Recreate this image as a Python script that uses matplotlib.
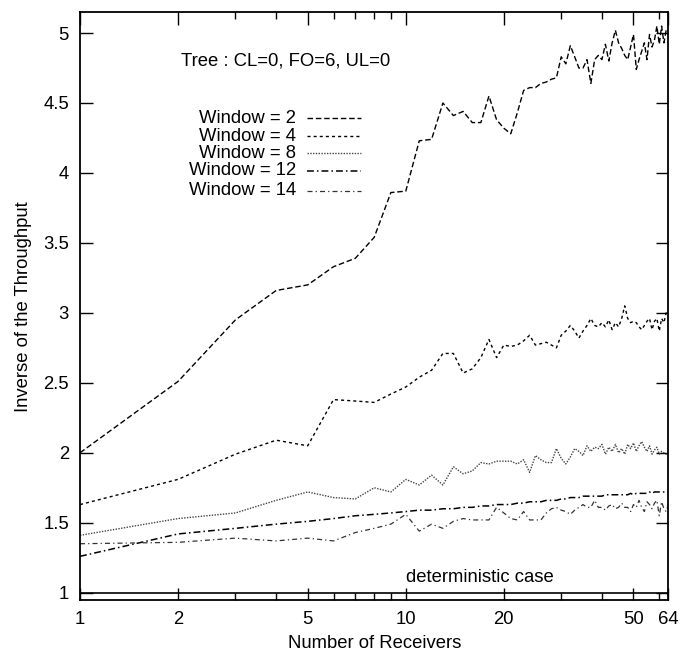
"""Inverse of the throughput vs number of receivers, tree topology, several window sizes."""

import numpy as np
import matplotlib
matplotlib.use("Agg")
import matplotlib.pyplot as plt
from matplotlib.ticker import FixedLocator, NullFormatter

plt.rcParams["font.family"] = ["Liberation Sans", "DejaVu Sans"]

receivers = np.arange(1, 65)

window_2 = [
    2.00, 2.51, 2.95, 3.16, 3.20, 3.33, 3.39, 3.54, 3.86, 3.87,
    4.23, 4.24, 4.50, 4.41, 4.44, 4.36, 4.36, 4.55, 4.38, 4.32,
    4.28, 4.43, 4.59, 4.61, 4.61, 4.64, 4.65, 4.67, 4.68, 4.83,
    4.78, 4.91, 4.83, 4.75, 4.75, 4.81, 4.64, 4.81, 4.84, 4.81,
    4.92, 4.80, 4.93, 5.02, 4.93, 4.89, 4.84, 4.81, 4.90, 4.99,
    4.74, 4.81, 4.87, 4.93, 4.81, 4.99, 4.90, 4.95, 5.05, 4.92,
    5.05, 4.93, 5.02, 5.00,
]
window_4 = [
    1.63, 1.81, 1.99, 2.09, 2.05, 2.38, 2.37, 2.36, 2.42, 2.47,
    2.54, 2.59, 2.71, 2.71, 2.57, 2.60, 2.68, 2.81, 2.68, 2.77,
    2.76, 2.77, 2.80, 2.84, 2.77, 2.78, 2.79, 2.77, 2.75, 2.84,
    2.87, 2.91, 2.87, 2.82, 2.87, 2.91, 2.96, 2.91, 2.90, 2.93,
    2.90, 2.95, 2.88, 2.93, 2.90, 2.96, 3.05, 2.96, 2.93, 2.94,
    2.93, 2.90, 2.88, 2.91, 2.94, 2.96, 2.88, 2.94, 2.96, 2.87,
    2.96, 2.93, 3.00, 2.97,
]
window_8 = [
    1.41, 1.53, 1.57, 1.66, 1.72, 1.68, 1.67, 1.75, 1.72, 1.81,
    1.77, 1.84, 1.77, 1.90, 1.85, 1.87, 1.93, 1.92, 1.94, 1.94,
    1.94, 1.92, 1.95, 1.86, 1.98, 1.95, 1.93, 1.93, 2.03, 1.96,
    1.92, 1.97, 2.03, 2.01, 1.98, 2.05, 2.01, 2.04, 2.03, 2.06,
    1.99, 2.04, 2.01, 2.06, 2.00, 2.03, 1.99, 2.06, 2.03, 2.07,
    2.01, 2.05, 2.08, 2.04, 2.01, 2.05, 1.99, 2.02, 2.04, 1.99,
    2.01, 2.00, 1.99, 1.99,
]
window_12 = [
    1.26, 1.42, 1.46, 1.49, 1.51, 1.53, 1.55, 1.56, 1.57, 1.58,
    1.59, 1.59, 1.60, 1.60, 1.61, 1.61, 1.62, 1.62, 1.63, 1.63,
    1.63, 1.64, 1.64, 1.65, 1.65, 1.65, 1.66, 1.66, 1.66, 1.67,
    1.67, 1.68, 1.68, 1.68, 1.69, 1.69, 1.69, 1.69, 1.69, 1.69,
    1.70, 1.70, 1.70, 1.70, 1.70, 1.70, 1.70, 1.70, 1.71, 1.70,
    1.71, 1.71, 1.71, 1.71, 1.71, 1.72, 1.71, 1.72, 1.72, 1.72,
    1.72, 1.72, 1.72, 1.72,
]
window_14 = [
    1.35, 1.36, 1.39, 1.37, 1.39, 1.37, 1.43, 1.46, 1.49, 1.56,
    1.44, 1.49, 1.46, 1.51, 1.53, 1.52, 1.52, 1.52, 1.61, 1.57,
    1.53, 1.52, 1.58, 1.52, 1.52, 1.52, 1.57, 1.60, 1.61, 1.59,
    1.58, 1.56, 1.59, 1.61, 1.63, 1.61, 1.61, 1.66, 1.61, 1.61,
    1.59, 1.62, 1.63, 1.60, 1.61, 1.64, 1.61, 1.61, 1.58, 1.63,
    1.61, 1.66, 1.61, 1.58, 1.65, 1.63, 1.60, 1.64, 1.66, 1.55,
    1.65, 1.60, 1.58, 1.63,
]
deterministic = 1.0

labels = ["Window = 2", "Window = 4", "Window = 8", "Window = 12", "Window = 14"]
values = [window_2, window_4, window_8, window_12, window_14]
styles = [(0, (4, 2)), (0, (2.2, 2.2)), (0, (1, 1)), (0, (4.5, 2, 1, 2)), (0, (4, 2.5, 1, 2.5))]
colors = ["black", "black", "#444444", "black", "#333333"]
widths = [1.0, 1.0, 1.0, 1.1, 0.9]

x_ticks = [1, 2, 5, 10, 20, 50, 64]
y_ticks = [1, 1.5, 2, 2.5, 3, 3.5, 4, 4.5, 5]

fs = 13.3
fig = plt.figure(figsize=(6.81, 6.56), dpi=100)
ax = fig.add_axes([0.1175, 0.0854, 0.864, 0.8958])

for label, vals, ls, col, lw in zip(labels, values, styles, colors, widths):
    ax.plot(receivers, vals, linestyle=ls, color=col, linewidth=lw, label=label)

ax.axhline(deterministic, color="black", linewidth=1.2)
ax.text(10, deterministic + 0.045, "deterministic case", fontsize=fs, ha="left", va="bottom")

ax.set_xscale("log")
ax.set_xlim(1, 64)
ax.set_ylim(0.948, 5.148)
ax.xaxis.set_major_locator(FixedLocator(x_ticks))
ax.set_xticklabels([str(t) for t in x_ticks])
minor = [n * 10 ** k for k in range(2) for n in range(2, 10)]
ax.xaxis.set_minor_locator(FixedLocator([m for m in minor if m <= 64 and m not in x_ticks]))
ax.xaxis.set_minor_formatter(NullFormatter())
ax.set_yticks(y_ticks)
ax.set_yticklabels(["1", "1.5", "2", "2.5", "3", "3.5", "4", "4.5", "5"])

ax.tick_params(which="both", direction="in", top=True, right=True, labelsize=fs, pad=8)
ax.tick_params(which="major", length=9, width=1)
ax.tick_params(which="minor", length=5, width=1)
for s in ax.spines.values():
    s.set_linewidth(1.3)

ax.set_xlabel("Number of Receivers", fontsize=fs, labelpad=5)
ax.set_ylabel("Inverse of the Throughput", fontsize=fs, labelpad=8)

# key, gnuplot style: right-aligned labels with a short sample line after each
tr = ax.get_yaxis_transform()
ax.text(0.171, 4.80, "Tree : CL=0, FO=6, UL=0", transform=tr, fontsize=fs, ha="left", va="center")
key_rows = [4.39, 4.264, 4.14, 4.014, 3.873]
for label, ls, col, lw, ky in zip(labels, styles, colors, widths, key_rows):
    ax.text(0.367, ky, label, transform=tr, fontsize=fs, ha="right", va="center")
    ax.plot([0.386, 0.477], [ky, ky], transform=tr, linestyle=ls, color=col, linewidth=lw)

fig.savefig("out.png", dpi=100)
